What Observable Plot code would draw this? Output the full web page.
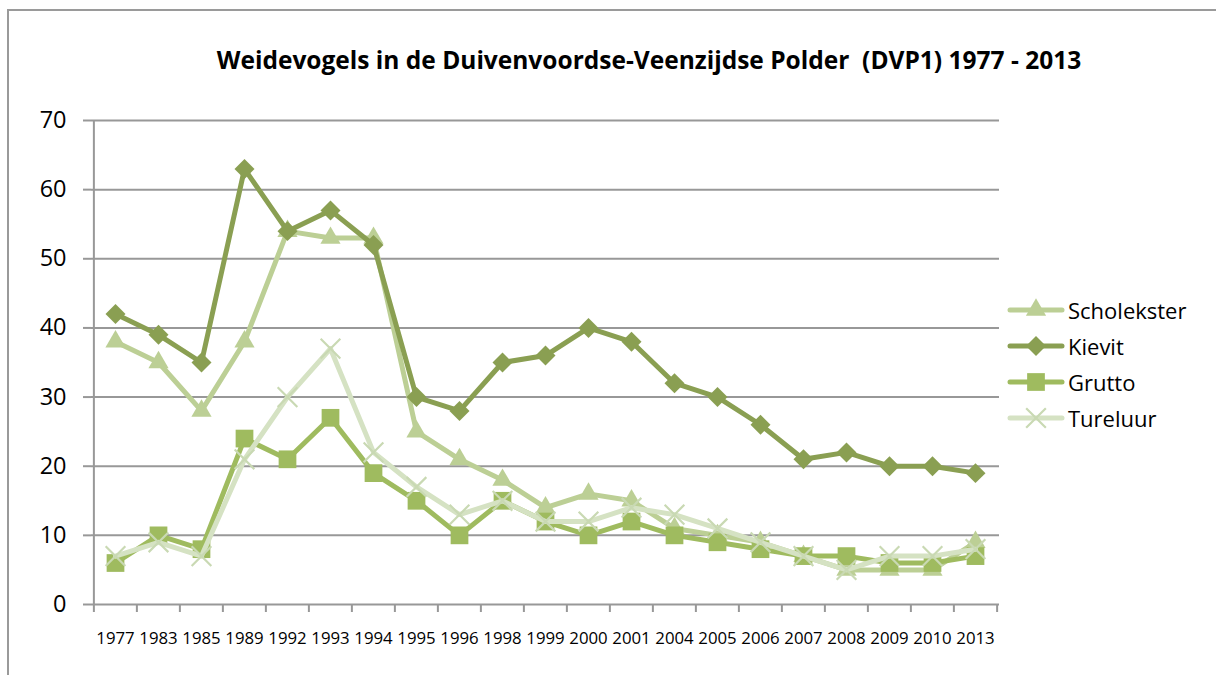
<!DOCTYPE html>
<html>
<head>
<meta charset="utf-8">
<script src="https://cdn.jsdelivr.net/npm/d3@7"></script>
<script src="https://cdn.jsdelivr.net/npm/@observablehq/plot@0.6"></script>
<style>
  html, body { margin: 0; padding: 0; background: #fff; }
  #wrap { position: relative; width: 1216px; height: 675px; overflow: hidden; font-family: "Open Sans", sans-serif; }
  #frame { position: absolute; left: 7px; top: 9px; right: -10px; bottom: -10px; border-top: 2px solid #9a9a9a; border-left: 2px solid #9a9a9a; }
  #title { position: absolute; left: 0; width: 1298px; top: 43px; text-align: center; font-weight: 700; font-size: 24.5px; color: #000; white-space: pre; }
  #legend { position: absolute; left: 1007px; top: 292px; }
  .item { display: flex; align-items: center; height: 36px; font-size: 22px; color: #000; }
  .item svg { margin-right: 3px; }
  #chart { position: absolute; left: 0; top: 0; }
</style>
</head>
<body>
<div id="wrap">
  <div id="frame"></div>
  <div id="chart"></div>
  <div id="title">Weidevogels in de Duivenvoordse-Veenzijdse Polder  (DVP1) 1977 - 2013</div>
  <div id="legend"></div>
</div>
<script>
const years = ["1977","1983","1985","1989","1992","1993","1994","1995","1996","1998","1999","2000","2001","2004","2005","2006","2007","2008","2009","2010","2013"];
const scholekster = [38,35,28,38,54,53,53,25,21,18,14,16,15,11,10,9,7,5,5,5,9];
const kievit      = [42,39,35,63,54,57,52,30,28,35,36,40,38,32,30,26,21,22,20,20,19];
const grutto      = [6,10,8,24,21,27,19,15,10,15,12,10,12,10,9,8,7,7,6,6,7];
const tureluur    = [7,9,7,21,30,37,22,17,13,15,12,12,14,13,11,9,7,5,7,7,8];
const seriesNames = ["Scholekster","Kievit","Grutto","Tureluur"];
const yTicks = [0,10,20,30,40,50,60,70];

const styles = {
  Scholekster: {line: "#bccf95", mark: "#bccf95", symbol: "triangle", r: 7.5, filled: true},
  Kievit:      {line: "#8a9f52", mark: "#8a9f52", symbol: "diamond2", r: 9, filled: true},
  Grutto:      {line: "#9fbb5f", mark: "#9fbb5f", symbol: "square", r: 10, filled: true},
  Tureluur:    {line: "#d5e2c3", mark: "#c9d9b3", symbol: "times", r: 9, filled: false}
};
const valuesBy = {Scholekster: scholekster, Kievit: kievit, Grutto: grutto, Tureluur: tureluur};

const W = 1216, H = 675, ML = 91, MR = 217, MT = 120, MB = 71;
const half = (W - ML - MR) / years.length / 2;
const grey = "#989898";

const marks = [
  Plot.gridY({ticks: yTicks, stroke: grey, strokeOpacity: 1, strokeWidth: 2}),
  Plot.ruleX([years[0]], {x: d => d, y1: 0, y2: 70, dx: -half, stroke: grey, strokeWidth: 2}),
  Plot.axisY({ticks: yTicks, tickSize: 8, tickPadding: 17, fontSize: 23.5, stroke: grey, strokeWidth: 2, fill: "#000", label: null}),
  Plot.axisX({ticks: years, tickSize: 8, dx: -half, tickFormat: () => "", stroke: grey, strokeWidth: 2, label: null}),
  Plot.axisX({ticks: [years[years.length - 1]], tickSize: 8, dx: half, tickFormat: () => "", stroke: grey, strokeWidth: 2, label: null}),
  Plot.axisX({ticks: years, tickSize: 0, tickPadding: 28, fontSize: 16.8, fill: "#000", label: null})
];

for (const name of seriesNames) {
  const s = styles[name];
  const data = years.map((y, i) => ({year: y, value: valuesBy[name][i]}));
  marks.push(Plot.lineY(data, {x: "year", y: "value", stroke: s.line, strokeWidth: 5, strokeLinejoin: "round", strokeLinecap: "round"}));
  marks.push(Plot.dot(data, s.filled
    ? {x: "year", y: "value", symbol: s.symbol, r: s.r, fill: s.mark, stroke: "none"}
    : {x: "year", y: "value", symbol: s.symbol, r: s.r, fill: "none", stroke: s.mark, strokeWidth: 2.2}));
}

const chart = Plot.plot({
  width: W, height: H,
  marginLeft: ML, marginRight: MR, marginTop: MT, marginBottom: MB,
  style: {background: "transparent", fontFamily: "Open Sans"},
  x: {type: "point", domain: years, padding: 0.5, label: null, axis: null},
  y: {domain: [0, 70], label: null, axis: null},
  marks
});
document.getElementById("chart").appendChild(chart);

// legend
const symbolMap = {triangle: d3.symbolTriangle, diamond2: d3.symbolDiamond2, square: d3.symbolSquare, times: d3.symbolTimes};
const legend = document.getElementById("legend");
for (const name of seriesNames) {
  const s = styles[name];
  const item = document.createElement("div");
  item.className = "item";
  const path = d3.symbol(symbolMap[s.symbol], Math.PI * s.r * s.r)();
  const svg = `<svg width="58" height="26" viewBox="0 0 58 26">
    <line x1="3" x2="55" y1="13" y2="13" stroke="${s.line}" stroke-width="5" stroke-linecap="round"/>
    <path transform="translate(29,13)" d="${path}" fill="${s.filled ? s.mark : "none"}" stroke="${s.filled ? "none" : s.mark}" stroke-width="2.2"/>
  </svg>`;
  item.innerHTML = svg + `<span>${name}</span>`;
  legend.appendChild(item);
}
</script>
</body>
</html>
